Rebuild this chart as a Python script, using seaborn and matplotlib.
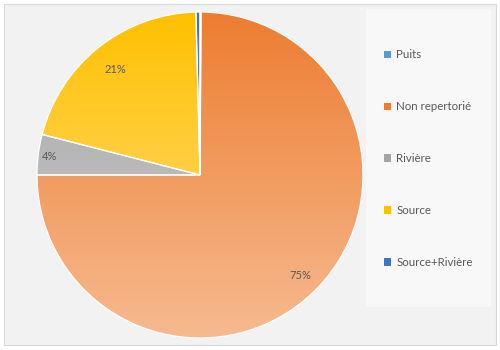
import numpy as np
import matplotlib
matplotlib.use("Agg")
import matplotlib.pyplot as plt
from matplotlib.colors import LinearSegmentedColormap
from matplotlib.patches import Rectangle, Patch
import seaborn as sns

# Data (shares in per mille)
categories = ["Puits", "Non repertorié", "Rivière", "Source", "Source+Rivière"]
values = [1, 749, 40, 206, 4]
base_colors = ["#5B9BD5", "#ED7D31", "#A5A5A5", "#FFC000", "#4472C4"]
light_colors = ["#9DC3E6", "#F6BA90", "#CFCFCF", "#FFE08A", "#7F9FD8"]
label_radius = [0.8, 0.87, 0.93, 0.83, 0.8]

sns.set_style("white")
plt.rcParams["font.family"] = ["Lato", "DejaVu Sans"]

fig = plt.figure(figsize=(5, 3.5), dpi=100)
fig.patch.set_facecolor("white")

# chart area background and frame
fig.patches.append(Rectangle((4 / 500, 5 / 350), 492 / 500, 341 / 350,
                             transform=fig.transFigure, facecolor="#F2F2F2",
                             edgecolor="#D9D9D9", linewidth=0.8, zorder=-5))
# legend box
fig.patches.append(Rectangle((366 / 500, 1 - 307 / 350), 125 / 500, 298 / 350,
                             transform=fig.transFigure, facecolor="#F8F8F8",
                             edgecolor="none", zorder=-4))

ax = fig.add_axes([37 / 500, 12 / 350, 326 / 500, 326 / 350])
ax.set_facecolor("none")
ax.set_zorder(2)

total = sum(values)
wedges, _ = ax.pie(values, startangle=90, counterclock=False, radius=1,
                   colors=base_colors,
                   wedgeprops=dict(edgecolor="white", linewidth=0.9))

# vertical gradient fill clipped to each wedge
grad = np.linspace(0, 1, 256).reshape(-1, 1)
for w, c0, c1 in zip(wedges, base_colors, light_colors):
    cmap = LinearSegmentedColormap.from_list("g", [c0, c1])
    im = ax.imshow(grad, cmap=cmap, extent=(-1, 1, -1, 1), origin="upper",
                   aspect="auto", zorder=w.get_zorder() - 0.5)
    im.set_clip_path(w)
    w.set_facecolor("none")

# percentage labels
start = 90.0
for v, r in zip(values, label_radius):
    frac = v / total
    mid = np.deg2rad(start - frac * 360 / 2)
    start -= frac * 360
    if frac >= 0.01:
        ax.text(r * np.cos(mid), r * np.sin(mid), f"{round(frac * 100)}%",
                ha="center", va="center", fontsize=8, color="#595959")

ax.set_xlim(-1, 1)
ax.set_ylim(-1, 1)
ax.set_aspect("equal")
ax.axis("off")

handles = [Patch(facecolor=c, edgecolor="none") for c in base_colors]
leg = fig.legend(handles, categories, loc="upper left",
                 bbox_to_anchor=(374 / 500, 1 - 39 / 350), frameon=False,
                 fontsize=8.3, labelcolor="#595959", labelspacing=3.55,
                 handlelength=0.6, handleheight=0.6, handletextpad=0.45)
leg.set_zorder(3)

fig.savefig("out.png", dpi=100)
